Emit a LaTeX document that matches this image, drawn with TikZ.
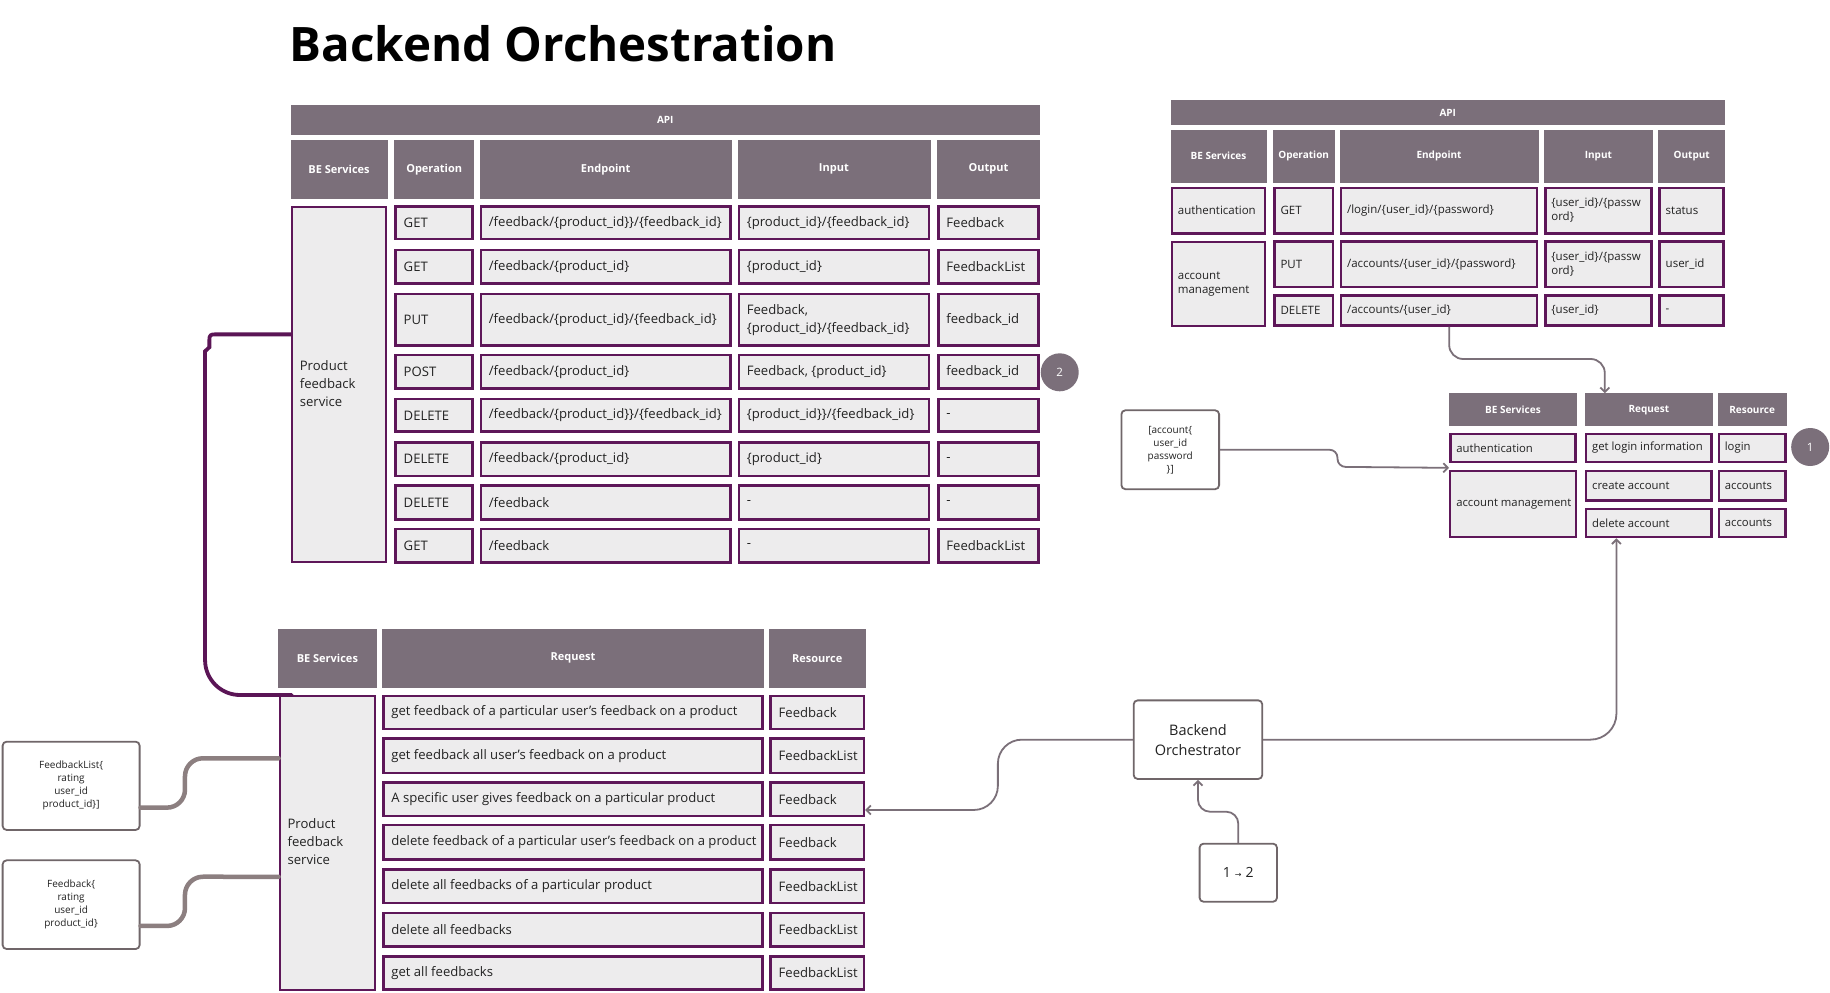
\documentclass[tikz,border=0pt]{standalone}
\usepackage{fontspec}
\setmainfont{Open Sans}
\newfontfamily\symfont{DejaVu Sans}
\usetikzlibrary{arrows.meta,calc}

\definecolor{hdrc}{HTML}{7B6F7A}
\definecolor{cellf}{HTML}{EDECED}
\definecolor{cellb}{HTML}{5E1759}
\definecolor{plum}{HTML}{5B1556}
\definecolor{wire}{HTML}{7B7079}
\definecolor{thickwire}{HTML}{8C7F80}
\definecolor{boxline}{HTML}{706669}
\definecolor{ink}{HTML}{222222}

% one drawing unit in pt
\def\pxu{1.1671}
\def\cellpad{8}

% left-aligned table cell: style, name, x1, y1, x2, y2, text
\newcommand\cellnode[7]{%
  \pgfmathsetmacro\cw{(#5-#3)*\pxu-2.5}%
  \pgfmathsetmacro\ch{(#6-#4)*\pxu-2.5}%
  \pgfmathsetmacro\tw{\cw-2*\cellpad}%
  \pgfmathsetmacro\cx{(#3+#5)/2}%
  \pgfmathsetmacro\cy{(#4+#6)/2}%
  \node[#1, minimum width=\cw pt, minimum height=\ch pt] (#2) at (\cx,\cy) {\makebox[\tw pt][l]{#7}};%
}
% centred header cell
\newcommand\hdrnode[7]{%
  \pgfmathsetmacro\cw{(#5-#3)*\pxu-0.5}%
  \pgfmathsetmacro\ch{(#6-#4)*\pxu-0.5}%
  \pgfmathsetmacro\cx{(#3+#5)/2}%
  \pgfmathsetmacro\cy{(#4+#6)/2}%
  \node[#1, minimum width=\cw pt, minimum height=\ch pt] (#2) at (\cx,\cy) {#7};%
}
\newcommand\lines[1]{\begin{tabular}{@{}l@{}}#1\end{tabular}}

% rows of the feedback API table: index, y1, y2, operation, endpoint, input, output
\newcommand\tlrow[7]{%
  \cellnode{body,tl}{tlop#1}{338}{#2}{406}{#3}{#4}%
  \cellnode{body,tl}{tlep#1}{411}{#2}{627}{#3}{#5}%
  \cellnode{body,tl}{tlin#1}{632}{#2}{797}{#3}{#6}%
  \cellnode{body,tl}{tlout#1}{803}{#2}{891}{#3}{#7}%
}
% rows of the feedback request table: index, y1, y2, request, resource
\newcommand\blrow[5]{%
  \cellnode{body,tl}{blreq#1}{327.4}{#2}{654.4}{#3}{#4}%
  \cellnode{body,tl}{blres#1}{659.3}{#2}{741.2}{#3}{#5}%
}

\tikzset{
  hdr/.style={fill=hdrc, draw=hdrc, line width=0.5pt, text=white, inner sep=0pt,
    font=\bfseries\fontsize{11}{13}\selectfont},
  hdrs/.style={hdr, font=\bfseries\fontsize{10}{12}\selectfont},
  body/.style={fill=cellf, draw=cellb, line width=2.5pt, text=ink,
    inner xsep=\cellpad pt, inner ysep=0pt},
  be/.style={body, line width=2pt},
  tl/.style={font=\fontsize{13.1}{18}\selectfont},
  tr/.style={font=\fontsize{11.5}{14.5}\selectfont},
  rb/.style={font=\fontsize{11.3}{14}\selectfont},
  gbox/.style={draw=boxline, line width=1.8pt, rounded corners=4pt, fill=white,
    text=ink, align=center, inner sep=0pt},
  note/.style={gbox, font=\fontsize{10}{13}\selectfont},
  badge/.style={circle, fill=hdrc, text=white, minimum size=38pt, inner sep=0pt,
    font=\fontsize{11.5}{13}\selectfont},
  wirec/.style={draw=wire, line width=1.8pt, -{Straight Barb[length=4.5pt,width=9pt]}},
  thickc/.style={draw=thickwire, line width=4.5pt, line cap=round},
  plumc/.style={draw=plum, line width=3.8pt, line cap=round},
}

\begin{document}
\begin{tikzpicture}[x=1.1671pt, y=-1.1671pt]
\fill[white] (0,0) rectangle (1568,850);
\useasboundingbox (0,0) rectangle (1568,850);

\node[anchor=base west, inner sep=0pt, text=black,
  font=\bfseries\fontsize{47.5}{57}\selectfont] (title) at (248,53) {Backend Orchestration};

% ---------- feedback service API ----------
\def\cellpad{8}
\hdrnode{hdr,font=\bfseries\fontsize{10}{12}\selectfont}{tlapi}{249}{90}{891}{115}{API}
\hdrnode{hdr}{tlh1}{249}{120}{332}{170}{BE Services}
\hdrnode{hdr}{tlh2}{338}{120}{406}{170}{Operation}
\hdrnode{hdr}{tlh3}{411}{120}{627}{170}{Endpoint}
\hdrnode{hdr}{tlh4}{632}{120}{797}{170}{Input}
\hdrnode{hdr}{tlh5}{803}{120}{891}{170}{Output}
\cellnode{be,tl}{tlbe}{249}{176}{332}{483}{\lines{Product\\feedback\\service}}
\tlrow{1}{176}{206}{GET}{/feedback/\{product\_id\}\}/\{feedback\_id\}}{\{product\_id\}/\{feedback\_id\}}{Feedback}
\tlrow{2}{213}{244}{GET}{/feedback/\{product\_id\}}{\{product\_id\}}{FeedbackList}
\tlrow{3}{251}{297}{PUT}{/feedback/\{product\_id\}/\{feedback\_id\}}{\lines{Feedback,\\\{product\_id\}/\{feedback\_id\}}}{feedback\_id}
\tlrow{4}{303}{334}{POST}{/feedback/\{product\_id\}}{Feedback, \{product\_id\}}{feedback\_id}
\tlrow{5}{341}{371}{DELETE}{/feedback/\{product\_id\}\}/\{feedback\_id\}}{\{product\_id\}\}/\{feedback\_id\}}{-}
\tlrow{6}{378}{409}{DELETE}{/feedback/\{product\_id\}}{\{product\_id\}}{-}
\tlrow{7}{415}{446}{DELETE}{/feedback}{-}{-}
\tlrow{8}{452}{483}{GET}{/feedback}{-}{FeedbackList}
\node[badge] (b2) at (908,319) {2};

% ---------- feedback service requests ----------
\hdrnode{hdr}{blh1}{238.5}{539}{322.5}{589}{BE Services}
\hdrnode{hdr}{blh2}{327.4}{539}{654.4}{589}{Request}
\hdrnode{hdr}{blh3}{659.3}{539}{741.2}{589}{Resource}
\cellnode{be,tl}{blbe}{238.5}{595.2}{322.5}{849}{\lines{Product\\feedback\\service}}
\blrow{1}{595.2}{625.5}{get feedback of a particular user’s feedback on a product}{Feedback}
\blrow{2}{631.8}{663.2}{get feedback all user’s feedback on a product}{FeedbackList}
\blrow{3}{669.5}{700.3}{A specific user gives feedback on a particular product}{Feedback}
\blrow{4}{706}{737.5}{delete feedback of a particular user’s feedback on a product}{Feedback}
\blrow{5}{744}{774.8}{delete all feedbacks of a particular product}{FeedbackList}
\blrow{6}{781.2}{812}{delete all feedbacks}{FeedbackList}
\blrow{7}{818.3}{849}{get all feedbacks}{FeedbackList}

% ---------- account API ----------
\def\cellpad{6}
\hdrnode{hdrs}{trapi}{1003}{86}{1478}{107}{API}
\hdrnode{hdrs}{trh1}{1003}{111}{1085}{156}{BE Services}
\hdrnode{hdrs}{trh2}{1091}{111}{1143}{156}{Operation}
\hdrnode{hdrs}{trh3}{1148}{111}{1318}{156}{Endpoint}
\hdrnode{hdrs}{trh4}{1323}{111}{1416}{156}{Input}
\hdrnode{hdrs}{trh5}{1421}{111}{1478}{156}{Output}
\cellnode{body,tr}{trbe1}{1003}{160}{1085}{201}{authentication}
\cellnode{body,tr}{trop1}{1091}{160}{1143}{201}{GET}
\cellnode{body,tr}{trep1}{1148}{160}{1318}{201}{/login/\{user\_id\}/\{password\}}
\cellnode{body,tr}{trin1}{1323}{160}{1416}{201}{\lines{\{user\_id\}/\{passw\\ord\}}}
\cellnode{body,tr}{trout1}{1421}{160}{1478}{201}{status}
\cellnode{be,tr}{trbe2}{1003}{206}{1085}{280}{\lines{account\\management}}
\cellnode{body,tr}{trop2}{1091}{206}{1143}{247}{PUT}
\cellnode{body,tr}{trep2}{1148}{206}{1318}{247}{/accounts/\{user\_id\}/\{password\}}
\cellnode{body,tr}{trin2}{1323}{206}{1416}{247}{\lines{\{user\_id\}/\{passw\\ord\}}}
\cellnode{body,tr}{trout2}{1421}{206}{1478}{247}{user\_id}
\cellnode{body,tr}{trop3}{1091}{252}{1143}{280}{DELETE}
\cellnode{body,tr}{trep3}{1148}{252}{1318}{280}{/accounts/\{user\_id\}}
\cellnode{body,tr}{trin3}{1323}{252}{1416}{280}{\{user\_id\}}
\cellnode{body,tr}{trout3}{1421}{252}{1478}{280}{-}

% ---------- account requests ----------
\hdrnode{hdrs}{rbh1}{1241.6}{337}{1351}{365}{BE Services}
\hdrnode{hdrs}{rbh2}{1358}{337}{1467.5}{365}{Request}
\hdrnode{hdrs}{rbh3}{1471.7}{337}{1530.8}{365}{Resource}
\cellnode{body,rb}{rbbe1}{1241.6}{370.7}{1351}{397}{authentication}
\cellnode{body,rb}{rbreq1}{1358}{370.7}{1467.5}{397}{get login information}
\cellnode{body,rb}{rbres1}{1471.7}{370.7}{1530.8}{397}{login}
\cellnode{be,rb}{rbbe2}{1241.6}{402.7}{1351}{461.2}{account management}
\cellnode{body,rb}{rbreq2}{1358}{402.7}{1467.5}{429.8}{create account}
\cellnode{body,rb}{rbres2}{1471.7}{402.7}{1530.8}{429.8}{accounts}
\cellnode{body,rb}{rbreq3}{1358}{435}{1467.5}{461.2}{delete account}
\cellnode{body,rb}{rbres3}{1471.7}{435}{1530.8}{461.2}{accounts}
\node[badge] (b1) at (1551,383) {1};

% ---------- free boxes ----------
\node[note, minimum width=97.7pt, minimum height=78.9pt] (acc) at (1002.7,385.35)
  {[account\{\\user\_id\\password\\\}]};
\node[note, minimum width=137pt, minimum height=88.3pt] (fbl) at (60.95,673.3)
  {FeedbackList\{\\rating\\user\_id\\product\_id\}]};
\node[note, minimum width=137pt, minimum height=88.7pt] (fb) at (60.95,775.15)
  {Feedback\{\\rating\\user\_id\\product\_id\}};
\node[gbox, font=\fontsize{14.5}{20}\selectfont, minimum width=128.6pt, minimum height=78.6pt]
  (orch) at (1026.45,633.75) {Backend\\Orchestrator};
\node[gbox, font=\fontsize{14}{18}\selectfont, minimum width=77.4pt, minimum height=58.1pt]
  (seq) at (1061,747.75) {1\hspace{4pt}{\symfont\fontsize{8}{10}\selectfont →}\hspace{4pt}2};

% ---------- connectors ----------
\draw[plumc] ([yshift=50.2pt]tlbe.west) -- (184,286.5)
  .. controls (180.5,286.5) and (179.4,287.5) .. (179.4,291) -- (179.4,297.5)
  -- (175.7,301) -- (175.7,565.5)
  .. controls (175.7,582.1) and (189.1,595.5) .. (205.7,595.5)
  -- ([xshift=13pt]blbe.north west);
\draw[thickc, rounded corners=18pt] ([yshift=-21.8pt]fbl.east) -- (158.5,692)
  -- (158.5,649.7) -- ([yshift=84.5pt]blbe.west);
\draw[thickc, rounded corners=18pt] ([yshift=-21.2pt]fb.east) -- (158.5,793.4)
  -- (158.5,751.2) -- ([yshift=-34pt]blbe.west);
\draw[wirec, rounded corners=14pt] ([xshift=10.2pt]trep3.south) -- (1241.7,307.6)
  -- (1375,307.6) -- ([xshift=-44pt]rbh2.north);
\draw[wirec, rounded corners=8pt] (acc.east) -- (1146,385.35) -- (1146,400)
  -- ([yshift=-4.5pt]rbbe1.south west);
\draw[wirec, rounded corners=24pt] (orch.west) -- (855,633.75) -- (855,694)
  -- ([yshift=-10.6pt]blres3.east);
\draw[wirec, rounded corners=26pt] (orch.east) -- (1385,633.75)
  -- ([xshift=-32.4pt]rbreq3.south);
\draw[wirec, rounded corners=12pt] (seq.north) -- (1061,695.5) -- (1026.45,695.5)
  -- (orch.south);
\end{tikzpicture}
\end{document}
